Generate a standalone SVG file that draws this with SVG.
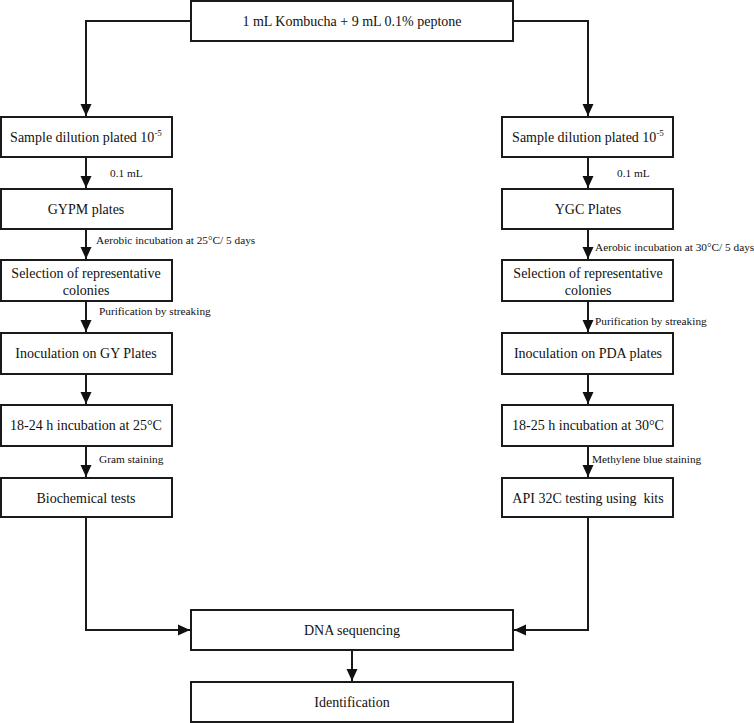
<svg xmlns="http://www.w3.org/2000/svg" width="754" height="723" viewBox="0 0 754 723" font-family="'Liberation Serif', 'Times New Roman', Times, 'DejaVu Serif', serif">
<style>
.box{fill:#fff;stroke:#1a1a1a;stroke-width:2}
text{font-family:'Liberation Serif','Times New Roman',Times,'DejaVu Serif',serif;fill:#111}
.t{font-size:14px;text-anchor:middle}
.s{font-size:11.3px}
.c{fill:none;stroke:#1a1a1a;stroke-width:2}
</style>
<defs>
<marker id="ah" markerUnits="userSpaceOnUse" markerWidth="12" markerHeight="12" viewBox="0 0 12 12" refX="12" refY="6" orient="auto">
<path d="M0,0.5 L12,6 L0,11.5 Z" fill="#111"/>
</marker>
</defs>
<g id="connectors">
<path class="c" d="M191,21 H86 V116" marker-end="url(#ah)"/>
<path class="c" d="M513,21 H588 V116" marker-end="url(#ah)"/>
<path class="c" d="M86,157 V188" marker-end="url(#ah)"/>
<path class="c" d="M588,157 V188" marker-end="url(#ah)"/>
<path class="c" d="M86,229 V259" marker-end="url(#ah)"/>
<path class="c" d="M588,229 V259" marker-end="url(#ah)"/>
<path class="c" d="M86,301 V332" marker-end="url(#ah)"/>
<path class="c" d="M588,301 V332" marker-end="url(#ah)"/>
<path class="c" d="M86,374 V404" marker-end="url(#ah)"/>
<path class="c" d="M588,374 V404" marker-end="url(#ah)"/>
<path class="c" d="M86,446 V477" marker-end="url(#ah)"/>
<path class="c" d="M588,446 V477" marker-end="url(#ah)"/>
<path class="c" d="M86,517 V630 H190" marker-end="url(#ah)"/>
<path class="c" d="M588,517 V630 H514" marker-end="url(#ah)"/>
<path class="c" d="M352,650 V681" marker-end="url(#ah)"/>
<text class="s" x="110" y="177">0.1 mL</text>
<text class="s" x="617" y="177">0.1 mL</text>
<text class="s" x="96" y="244">Aerobic incubation at 25°C/ 5 days</text>
<text class="s" x="595" y="251">Aerobic incubation at 30°C/ 5 days</text>
<text class="s" x="99" y="315">Purification by streaking</text>
<text class="s" x="595" y="325">Purification by streaking</text>
<text class="s" x="99" y="463">Gram staining</text>
<text class="s" x="592" y="463">Methylene blue staining</text>
</g>
<g id="start"><rect class="box" x="191" y="1" width="322" height="40"/><text class="t" x="352" y="26">1 mL Kombucha + 9 mL 0.1% peptone</text></g>
<g id="l1"><rect class="box" x="1" y="117" width="171" height="40"/><text class="t" x="86" y="142">Sample dilution plated 10<tspan font-size="9" dy="-6">-5</tspan></text></g>
<g id="r1"><rect class="box" x="502" y="117" width="171" height="40"/><text class="t" x="588" y="142">Sample dilution plated 10<tspan font-size="9" dy="-6">-5</tspan></text></g>
<g id="l2"><rect class="box" x="1" y="189" width="171" height="40"/><text class="t" x="86" y="214">GYPM plates</text></g>
<g id="r2"><rect class="box" x="502" y="189" width="171" height="40"/><text class="t" x="588" y="214">YGC Plates</text></g>
<g id="l3"><rect class="box" x="1" y="260" width="171" height="41"/><text class="t" x="86" y="278">Selection of representative</text><text class="t" x="86" y="295">colonies</text></g>
<g id="r3"><rect class="box" x="502" y="260" width="171" height="41"/><text class="t" x="588" y="278">Selection of representative</text><text class="t" x="588" y="295">colonies</text></g>
<g id="l4"><rect class="box" x="1" y="333" width="171" height="41"/><text class="t" x="86" y="358">Inoculation on GY Plates</text></g>
<g id="r4"><rect class="box" x="502" y="333" width="171" height="41"/><text class="t" x="588" y="358">Inoculation on PDA plates</text></g>
<g id="l5"><rect class="box" x="1" y="405" width="171" height="41"/><text class="t" x="86" y="430">18-24 h incubation at 25°C</text></g>
<g id="r5"><rect class="box" x="502" y="405" width="171" height="41"/><text class="t" x="588" y="430">18-25 h incubation at 30°C</text></g>
<g id="l6"><rect class="box" x="1" y="478" width="171" height="39"/><text class="t" x="86" y="503">Biochemical tests</text></g>
<g id="r6"><rect class="box" x="502" y="478" width="171" height="39"/><text class="t" x="588" y="503" xml:space="preserve">API 32C testing using  kits</text></g>
<g id="dna"><rect class="box" x="191" y="610" width="322" height="40"/><text class="t" x="352" y="635">DNA sequencing</text></g>
<g id="ident"><rect class="box" x="191" y="682" width="322" height="40"/><text class="t" x="352" y="707">Identification</text></g>
</svg>
